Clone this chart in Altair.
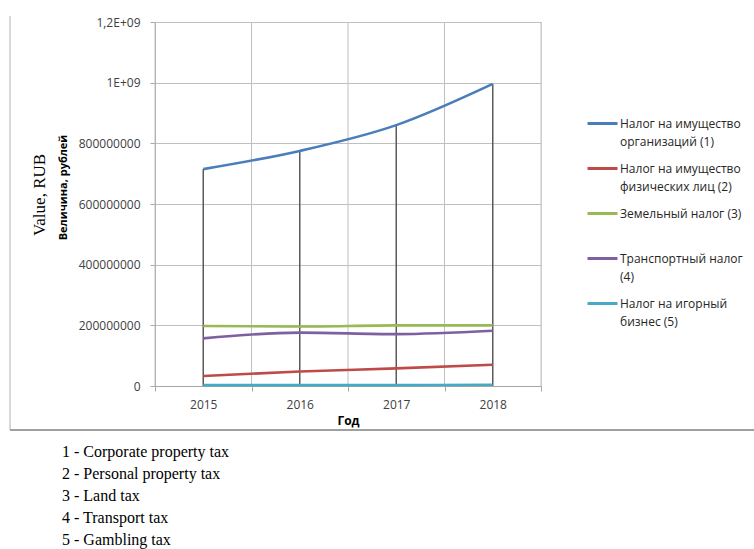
import altair as alt
import pandas as pd

years = [2015, 2016, 2017, 2018]
series_names = [
    "Налог на имущество организаций",
    "Налог на имущество физических лиц",
    "Земельный налог",
    "Транспортный налог",
    "Налог на игорный бизнес",
]
legend_first = ["Налог на имущество", "Налог на имущество", "Земельный налог  (3)",
                "Транспортный налог", "Налог на игорный"]
legend_second = ["организаций  (1)", "физических лиц  (2)", " ", " (4)", "бизнес   (5)"]
corporate = [715e6, 775e6, 860e6, 996e6]
personal = [33e6, 48e6, 58e6, 70e6]
land = [198e6, 196e6, 200e6, 200e6]
transport = [157e6, 176e6, 171e6, 182e6]
gambling = [3e6, 3e6, 3e6, 4e6]
colors = ["#4A7EBB", "#BE4B48", "#98B954", "#7D60A0", "#46AAC5"]
y_ticks = [0, 200e6, 400e6, 600e6, 800e6, 1000e6, 1200e6]
x_bounds = [2014.5, 2015.5, 2016.5, 2017.5, 2018.5]
footer = [
    "1 - Corporate property tax",
    "2 - Personal property tax",
    "3 - Land tax",
    "4 - Transport tax",
    "5 - Gambling tax",
]

rows = []
for name, vals in zip(series_names, [corporate, personal, land, transport, gambling]):
    for yr, v in zip(years, vals):
        rows.append({"series": name, "year": yr, "value": v})
df = pd.DataFrame(rows)

SANS = "Open Sans"
xscale = alt.Scale(domain=[2014.5, 2018.5], nice=False, zero=False)
yscale = alt.Scale(domain=[0, 1.2e9], nice=False)
second_keys = ["b_" + n for n in series_names]


def expr_map(keys, labels):
    return "{" + ", ".join('"%s": "%s"' % (k, l) for k, l in zip(keys, labels)) + "}[datum.label]"


yaxis = alt.Axis(
    values=y_ticks,
    labelExpr="datum.value == 1200000000 ? '1,2E+09' : datum.value == 1000000000 ? '1E+09' : format(datum.value, 'd')",
    grid=True, gridColor="#c0c0c0", gridWidth=1,
    domainColor="#a6a6a6", tickColor="#a6a6a6", tickSize=5,
    labelFont=SANS, labelFontSize=12, labelColor="#404040", labelPadding=10,
    title="Величина, рублей", titleFont=SANS, titleFontSize=11, titleFontWeight="bold",
    titleColor="#000000", titleX=-92, titleY=165, titleAlign="center", titleBaseline="middle",
)

grid_layer = alt.Chart(pd.DataFrame({"b": x_bounds})).mark_rule(color="#c0c0c0", strokeWidth=1).encode(
    x=alt.X("b:Q", scale=xscale, axis=alt.Axis(
        values=x_bounds, labels=False, grid=False, tickSize=5, tickColor="#a6a6a6",
        domainColor="#a6a6a6", title=None, orient="bottom")),
)

drop = alt.Chart(df).transform_aggregate(m="max(value)", groupby=["year"]).mark_rule(
    color="#5a5a5a", strokeWidth=1.5
).encode(
    x=alt.X("year:Q", scale=xscale, axis=alt.Axis(
        values=years, format="d", grid=False, ticks=False, domain=False,
        labelFont=SANS, labelFontSize=12, labelColor="#404040", labelPadding=13,
        title="Год", titleFont=SANS, titleFontSize=12, titleFontWeight="bold",
        titleColor="#000000", titlePadding=5, orient="bottom")),
    y=alt.Y("m:Q", scale=yscale, axis=yaxis),
    y2=alt.datum(0),
)

LEG_X, LEG_Y, ROW_PAD = 431, 85, 22

lines = alt.Chart(df).mark_line(strokeWidth=2.6, interpolate="monotone").encode(
    x=alt.X("year:Q", scale=xscale, axis=None),
    y=alt.Y("value:Q", scale=yscale, axis=yaxis),
    color=alt.Color("series:N", sort=series_names,
                    scale=alt.Scale(domain=series_names, range=colors),
                    legend=alt.Legend(
                        orient="none", legendX=LEG_X, legendY=LEG_Y, title=None,
                        symbolType="stroke", symbolSize=900, symbolStrokeWidth=3,
                        labelExpr=expr_map(series_names, legend_first),
                        labelFont=SANS, labelFontSize=12, labelColor="#262626",
                        labelOffset=1, labelLimit=300, labelBaseline="middle",
                        rowPadding=ROW_PAD, padding=0)),
)

# second legend carrying the second line of each legend label (no visible symbol)
second = alt.Chart(df).transform_filter("datum.year == 2015").transform_calculate(
    series2="'b_' + datum.series"
).mark_point(opacity=0).encode(
    x=alt.X("year:Q", scale=xscale, axis=None),
    y=alt.Y("value:Q", scale=yscale, axis=yaxis),
    fill=alt.Fill("series2:N", sort=second_keys,
                  scale=alt.Scale(domain=second_keys, range=colors),
                  legend=alt.Legend(
                      orient="none", legendX=LEG_X, legendY=LEG_Y + 18, title=None,
                      symbolType="stroke", symbolSize=900, symbolStrokeWidth=3, symbolOpacity=0,
                      labelExpr=expr_map(second_keys, legend_second),
                      labelFont=SANS, labelFontSize=12, labelColor="#262626",
                      labelOffset=1, labelLimit=300, labelBaseline="middle",
                      rowPadding=ROW_PAD, padding=0)),
)

one = pd.DataFrame({"k": [0]})
value_title = alt.Chart(one).mark_text(
    angle=270, font="Liberation Serif", fontSize=17, color="#000000", align="center", baseline="middle"
).encode(x=alt.value(-115), y=alt.value(173), text=alt.value("Value, RUB"))

footer_text = alt.Chart(one).mark_text(
    font="Liberation Serif", fontSize=16, color="#000000", align="left", baseline="middle", lineHeight=22
).encode(x=alt.value(-93), y=alt.value(430), text=alt.value(footer))

frame_left = alt.Chart(one).mark_rule(color="#b0b0b0", strokeWidth=1).encode(
    x=alt.value(-145), y=alt.value(-6), y2=alt.value(408))
frame_bottom = alt.Chart(one).mark_rule(color="#a0a0a0", strokeWidth=2).encode(
    x=alt.value(-145), x2=alt.value(600), y=alt.value(408))

chart = alt.layer(
    grid_layer, drop, lines, second, value_title, footer_text, frame_left, frame_bottom
).resolve_axis(x="independent").properties(
    width=386, height=364,
    autosize=alt.AutoSizeParams(type="none"),
    padding={"left": 155, "top": 22, "right": 213, "bottom": 163},
).configure_view(stroke=None).configure(background="white")

chart.save("out.html", embed_options={"renderer": "svg", "actions": False})
